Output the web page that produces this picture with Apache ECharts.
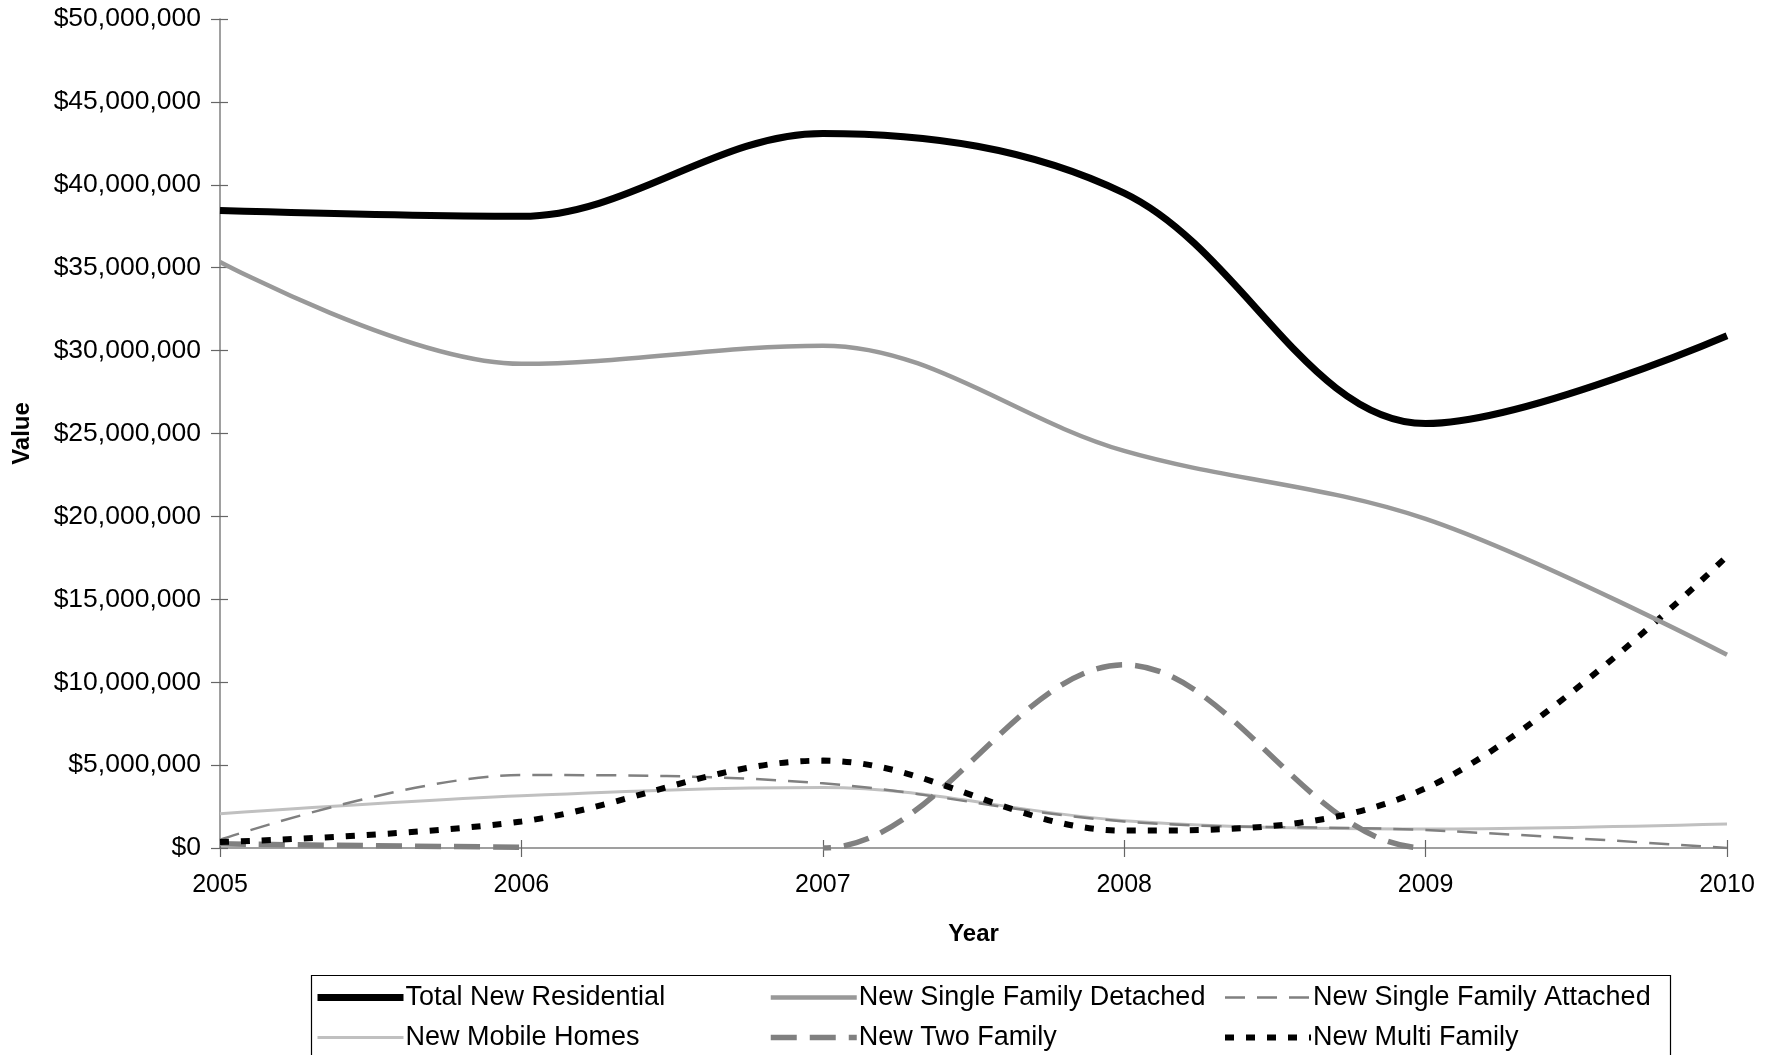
<!DOCTYPE html>
<html>
<head>
<meta charset="utf-8">
<script src="https://cdn.jsdelivr.net/npm/echarts@6/dist/echarts.min.js"></script>
<style>
  html, body { margin: 0; padding: 0; background: #fff; }
  #chart { width: 1780px; height: 1055px; }
</style>
</head>
<body>
<div id="chart"></div>
<script>
// Residential construction value by year
const years = [2005, 2006, 2007, 2008, 2009, 2010];

const totalNewResidential   = [38450000, 38100000, 43100000, 39500000, 25600000, 30900000];
const singleFamilyDetached  = [35350000, 29200000, 30300000, 23950000, 19850000, 11650000];
const singleFamilyAttached  = [500000, 4400000, 3900000, 1600000, 1080000, 0];
const mobileHomes           = [2070000, 3150000, 3650000, 1650000, 1150000, 1450000];
const twoFamily             = [250000, 50000, 0, 11050000, 0, 0];
const multiFamily           = [360000, 1600000, 5270000, 1050000, 3600000, 17600000];

const yTicks = { min: 0, max: 50000000, step: 5000000 };

const FONT = "'Liberation Sans', Arial, sans-serif";

function money(v) {
  return '$' + Math.round(v).toString().replace(/\B(?=(\d{3})+(?!\d))/g, ',');
}

function pairs(values) {
  return years.map((y, i) => [y, values[i]]);
}

const chart = echarts.init(document.getElementById('chart'), null, { renderer: 'canvas' });

const baseSeries = {
  type: 'line',
  smooth: 0.35,
  symbol: 'none',
  showSymbol: false,
  xAxisIndex: 0,
  yAxisIndex: 0,
  emphasis: { disabled: true },
  animation: false
};

// Line colour comes from the series colour so that the visualMap gradient can apply
const series = [
  { name: 'Total New Residential', data: pairs(totalNewResidential), color: '#000000',
    lineStyle: { width: 7 }, z: 8 },
  { name: 'New Single Family Detached', data: pairs(singleFamilyDetached), color: '#999999',
    lineStyle: { width: 4.5 }, z: 7 },
  { name: 'New Single Family Attached', data: pairs(singleFamilyAttached), color: '#808080',
    lineStyle: { width: 2.5, type: [20, 12], cap: 'butt' }, z: 4 },
  { name: 'New Mobile Homes', data: pairs(mobileHomes), color: '#c0c0c0',
    lineStyle: { width: 3 }, z: 3 },
  { name: 'New Two Family', data: pairs(twoFamily), color: '#808080',
    lineStyle: { width: 5.5, type: [26, 13], cap: 'butt' }, z: 5 },
  { name: 'New Multi Family', data: pairs(multiFamily), color: '#000000',
    lineStyle: { width: 6, type: [9, 12], cap: 'butt' }, z: 6 }
].map(s => Object.assign({}, baseSeries, s));

function legendColumn(left, names) {
  return {
    orient: 'vertical',
    left: left,
    top: 984,
    height: 120,
    padding: 0,
    itemWidth: 86,
    itemHeight: 14,
    itemGap: 13,
    selectedMode: false,
    itemStyle: { opacity: 0 },
    lineStyle: { width: 'inherit' },
    textStyle: { fontFamily: FONT, fontSize: 27, color: '#000', padding: [0, 0, 0, -3] },
    data: names
  };
}

const tickStyle = { color: '#666666', width: 1.2 };
const yearAxisBase = { type: 'value', min: 2005, max: 2010, interval: 1, position: 'bottom' };

const option = {
  backgroundColor: '#ffffff',
  animation: false,
  grid: { left: 220, right: 53, top: 19, bottom: 207, containLabel: false },
  // The two-family curve runs below zero between these years and is cut off there
  visualMap: {
    show: false,
    type: 'piecewise',
    seriesIndex: 4,
    dimension: 0,
    pieces: [
      { lte: 2006, color: '#808080' },
      { gt: 2006, lt: 2007, color: 'rgba(128,128,128,0)' },
      { gte: 2007, lte: 2009, color: '#808080' },
      { gt: 2009, color: 'rgba(128,128,128,0)' }
    ]
  },
  xAxis: [
    Object.assign({}, yearAxisBase, {
      name: 'Year',
      nameLocation: 'middle',
      nameGap: 74,
      nameTextStyle: { fontFamily: FONT, fontSize: 24, fontWeight: 'bold', color: '#000',
                       verticalAlign: 'top' },
      axisLine: { show: true, onZero: false, lineStyle: { color: '#808080', width: 1.5 } },
      axisTick: { show: true, inside: false, length: 9, lineStyle: tickStyle },
      axisLabel: { fontFamily: FONT, fontSize: 25, color: '#000', margin: 25,
                   formatter: v => String(v) },
      splitLine: { show: false }
    }),
    Object.assign({}, yearAxisBase, {
      axisLine: { show: false, onZero: false },
      axisTick: { show: true, inside: true, length: 8, lineStyle: tickStyle },
      axisLabel: { show: false },
      splitLine: { show: false }
    })
  ],
  yAxis: [
    {
      type: 'value',
      position: 'left',
      min: yTicks.min,
      max: yTicks.max,
      interval: yTicks.step,
      name: 'Value',
      nameLocation: 'middle',
      nameGap: 186,
      nameRotate: 90,
      nameTextStyle: { fontFamily: FONT, fontSize: 24, fontWeight: 'bold', color: '#000' },
      axisLine: { show: true, lineStyle: { color: '#808080', width: 1.5 } },
      axisTick: { show: true, inside: false, length: 9, lineStyle: tickStyle },
      axisLabel: { fontFamily: FONT, fontSize: 26.5, color: '#000', margin: 19, formatter: money },
      splitLine: { show: false }
    },
    {
      type: 'value',
      position: 'left',
      min: yTicks.min,
      max: yTicks.max,
      interval: yTicks.step,
      axisLine: { show: false },
      axisTick: { show: true, inside: true, length: 8, lineStyle: tickStyle },
      axisLabel: { show: false },
      splitLine: { show: false }
    }
  ],
  legend: [
    legendColumn(314, ['Total New Residential', 'New Mobile Homes']),
    legendColumn(768, ['New Single Family Detached', 'New Two Family']),
    legendColumn(1222, ['New Single Family Attached', 'New Multi Family'])
  ],
  graphic: [
    {
      type: 'rect',
      left: 309,
      top: 973,
      shape: { width: 1359, height: 80 },
      style: { fill: 'none', stroke: '#000000', lineWidth: 1.2 },
      silent: true,
      z: -1
    }
  ],
  series: series
};

chart.setOption(option);
</script>
</body>
</html>
